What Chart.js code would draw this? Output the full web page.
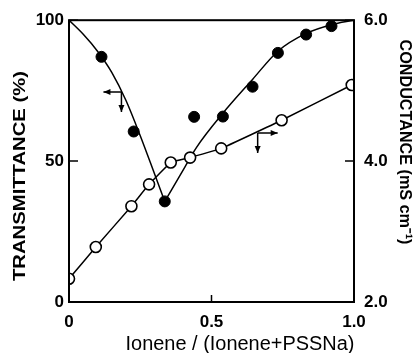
<!DOCTYPE html>
<html><head><meta charset="utf-8">
<script src="https://cdn.jsdelivr.net/npm/chart.js@4/dist/chart.umd.min.js"></script>
<style>html,body{margin:0;padding:0;background:#fff;}canvas{display:block;}</style>
</head><body>
<canvas id="c" width="414" height="353"></canvas>
<script>
// Transmittance (filled circles, left axis)
const transX = [0.114, 0.227, 0.336, 0.439, 0.54, 0.644, 0.733, 0.832, 0.921];
const transY = [87.0, 60.5, 35.7, 65.7, 65.8, 76.4, 88.4, 94.9, 97.9];
// Transmittance guide curves
const curveLeftX = [0, 0.05, 0.1, 0.15, 0.2, 0.25, 0.3, 0.336];
const curveLeftY = [100, 95, 89, 81.5, 71.5, 59, 45.5, 35.7];
const curveRightX = [0.336, 0.406, 0.447, 0.54, 0.644, 0.733, 0.832, 0.921, 1.0];
const curveRightY = [35.7, 47.8, 54.8, 67, 79, 89, 95.3, 98.4, 100];
// Conductance (open circles, right axis)
const condX = [0.0, 0.094, 0.219, 0.281, 0.357, 0.425, 0.534, 0.746, 0.992];
const condY = [2.33, 2.78, 3.36, 3.67, 3.98, 4.05, 4.18, 4.58, 5.08];
// Axis ticks
const xTicks = [0, 0.5, 1.0];
const xTickLabels = ['0', '0.5', '1.0'];
const yTicks = [0, 50, 100];
const y2Ticks = [2.0, 4.0, 6.0];
// Axis indicator arrows (anchor in data units)
const arrowX = [0.184, 0.662];
const arrowY = [74.5, 4.40];
const arrowAxis = ['y', 'y2'];
const arrowDir = ['left', 'right'];

const xyPairs = (xs, ys) => xs.map((x, i) => ({x: x, y: ys[i]}));
const FONT = '"Liberation Sans", Arial, sans-serif';

function fitText(ctx, text, width) {
  const w = ctx.measureText(text).width;
  ctx.save();
  ctx.scale(width / w, 1);
  ctx.fillText(text, 0, 0);
  ctx.restore();
}

const decor = {
  id: 'decor',
  afterDatasetsDraw(chart) {
    const ctx = chart.ctx, a = chart.chartArea;
    const sx = chart.scales.x, sy = chart.scales.y, sy2 = chart.scales.y2;
    ctx.save();
    ctx.strokeStyle = '#000';
    ctx.lineWidth = 2;
    ctx.strokeRect(a.left, a.top, a.right - a.left, a.bottom - a.top);
    ctx.lineWidth = 1.5;
    ctx.beginPath();
    xTicks.forEach(v => { const p = sx.getPixelForValue(v); ctx.moveTo(p, a.bottom); ctx.lineTo(p, a.bottom - 7); });
    yTicks.forEach(v => { const p = sy.getPixelForValue(v); ctx.moveTo(a.left, p); ctx.lineTo(a.left + 9, p); });
    y2Ticks.forEach(v => { const p = sy2.getPixelForValue(v); ctx.moveTo(a.right, p); ctx.lineTo(a.right - 9, p); });
    ctx.stroke();
    // arrows
    ctx.lineWidth = 1.5;
    ctx.fillStyle = '#000';
    arrowX.forEach((xv, i) => {
      const px = sx.getPixelForValue(xv);
      const py = chart.scales[arrowAxis[i]].getPixelForValue(arrowY[i]);
      const hx = arrowDir[i] === 'left' ? px - 18 : px + 20;
      const vy = py + 20;
      ctx.beginPath();
      ctx.moveTo(px, py); ctx.lineTo(hx, py);
      ctx.moveTo(px, py); ctx.lineTo(px, vy);
      ctx.stroke();
      const s = arrowDir[i] === 'left' ? 1 : -1;
      ctx.beginPath();
      ctx.moveTo(hx, py); ctx.lineTo(hx + s * 7, py - 3); ctx.lineTo(hx + s * 7, py + 3); ctx.closePath(); ctx.fill();
      ctx.beginPath();
      ctx.moveTo(px, vy); ctx.lineTo(px - 3, vy - 7); ctx.lineTo(px + 3, vy - 7); ctx.closePath(); ctx.fill();
    });
    ctx.restore();
  },
  afterDraw(chart) {
    const ctx = chart.ctx;
    ctx.save();
    ctx.fillStyle = '#000';
    ctx.textAlign = 'center';
    ctx.textBaseline = 'middle';
    ctx.font = 'bold 17px ' + FONT;
    ctx.save();
    ctx.translate(20, 176);
    ctx.rotate(-Math.PI / 2);
    fitText(ctx, 'TRANSMITTANCE (%)', 210);
    ctx.restore();
    ctx.save();
    ctx.translate(405, 142);
    ctx.rotate(Math.PI / 2);
    fitText(ctx, 'CONDUCTANCE (mS cm\u207B\u00B9)', 205);
    ctx.restore();
    ctx.font = '20px ' + FONT;
    ctx.save();
    ctx.translate(240, 344);
    fitText(ctx, 'Ionene / (Ionene+PSSNa)', 229);
    ctx.restore();
    ctx.restore();
  }
};

new Chart(document.getElementById('c'), {
  type: 'scatter',
  data: {
    datasets: [
      { label: 'Conductance', data: xyPairs(condX, condY), yAxisID: 'y2', showLine: true,
        borderColor: '#000', borderWidth: 1.5, tension: 0.1,
        pointRadius: 5.5, pointBorderWidth: 1.6, pointBackgroundColor: '#fff', pointBorderColor: '#000', order: 0 },
      { label: 'Transmittance', data: xyPairs(transX, transY), yAxisID: 'y', showLine: false,
        pointRadius: 5.5, pointBackgroundColor: '#000', pointBorderColor: '#000', order: 1 },
      { label: 'T curve left', data: xyPairs(curveLeftX, curveLeftY), yAxisID: 'y', showLine: true,
        borderColor: '#000', borderWidth: 1.5, pointRadius: 0, cubicInterpolationMode: 'monotone', order: 2 },
      { label: 'T curve right', data: xyPairs(curveRightX, curveRightY), yAxisID: 'y', showLine: true,
        borderColor: '#000', borderWidth: 1.5, pointRadius: 0, cubicInterpolationMode: 'monotone', order: 2 }
    ]
  },
  options: {
    responsive: false,
    animation: false,
    devicePixelRatio: 1,
    layout: { padding: { top: 19, left: 0, right: 0, bottom: 0 } },
    plugins: { legend: { display: false }, tooltip: { enabled: false } },
    scales: {
      x: {
        type: 'linear', min: 0, max: 1,
        afterFit: s => { s.height = 51; },
        afterBuildTicks: s => { s.ticks = xTicks.map(v => ({value: v})); },
        ticks: { color: '#000', padding: 10, font: { family: FONT, size: 17, weight: 'bold' },
                 callback: (v) => xTickLabels[xTicks.indexOf(v)] },
        grid: { display: false, drawTicks: false }, border: { display: false }
      },
      y: {
        type: 'linear', position: 'left', min: 0, max: 100,
        afterFit: s => { s.width = 69; },
        afterBuildTicks: s => { s.ticks = yTicks.map(v => ({value: v})); },
        ticks: { color: '#000', padding: 5, font: { family: FONT, size: 17, weight: 'bold' } },
        grid: { display: false, drawTicks: false }, border: { display: false }
      },
      y2: {
        type: 'linear', position: 'right', min: 2, max: 6,
        afterFit: s => { s.width = 60; },
        afterBuildTicks: s => { s.ticks = y2Ticks.map(v => ({value: v})); },
        ticks: { color: '#000', padding: 10, font: { family: FONT, size: 17, weight: 'bold' },
                 callback: v => v.toFixed(1) },
        grid: { display: false, drawTicks: false }, border: { display: false }
      }
    }
  },
  plugins: [decor]
});
</script>
</body></html>
